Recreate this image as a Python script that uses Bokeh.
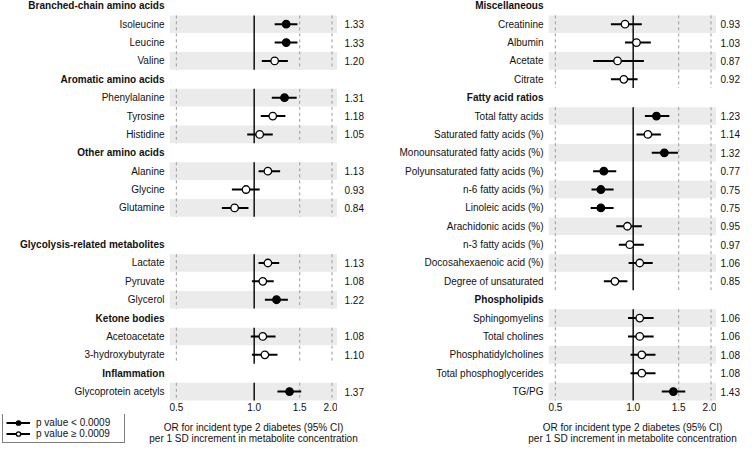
from bokeh.plotting import figure
from bokeh.models import (Range1d, FixedTicker, PrintfTickFormatter, ColumnDataSource,
                          Legend, LegendItem)
from bokeh.layouts import row, column
from bokeh.embed import file_html
from bokeh.resources import INLINE
from bokeh.core.properties import value

# ---------------- data ----------------
left_groups = ["Branched-chain amino acids", "Aromatic amino acids", "Other amino acids",
               "Glycolysis-related metabolites", "Ketone bodies", "Inflammation"]
left_group_sizes = [3, 3, 3, 3, 2, 1]
left_gap_before = [0, 0, 0, 1, 0, 0]
left_metabolites = ["Isoleucine", "Leucine", "Valine",
                    "Phenylalanine", "Tyrosine", "Histidine",
                    "Alanine", "Glycine", "Glutamine",
                    "Lactate", "Pyruvate", "Glycerol",
                    "Acetoacetate", "3-hydroxybutyrate",
                    "Glycoprotein acetyls"]
left_or = [1.33, 1.33, 1.20, 1.31, 1.18, 1.05, 1.13, 0.93, 0.84, 1.13, 1.08, 1.22, 1.08, 1.10, 1.37]
left_lo = [1.20, 1.20, 1.07, 1.17, 1.06, 0.94, 1.04, 0.82, 0.75, 1.04, 0.98, 1.10, 0.97, 0.98, 1.23]
left_hi = [1.47, 1.47, 1.35, 1.46, 1.32, 1.18, 1.26, 1.05, 0.95, 1.25, 1.19, 1.35, 1.21, 1.23, 1.52]
left_sig = [1, 1, 0, 1, 0, 0, 0, 0, 0, 0, 0, 1, 0, 0, 1]

right_groups = ["Miscellaneous", "Fatty acid ratios", "Phospholipids"]
right_group_sizes = [4, 10, 5]
right_gap_before = [0, 0, 0]
right_metabolites = ["Creatinine", "Albumin", "Acetate", "Citrate",
                     "Total fatty acids", "Saturated fatty acids (%)",
                     "Monounsaturated fatty acids (%)", "Polyunsaturated fatty acids (%)",
                     "n-6 fatty acids (%)", "Linoleic acids (%)", "Arachidonic acids (%)",
                     "n-3 fatty acids (%)", "Docosahexaenoic acid (%)", "Degree of unsaturated",
                     "Sphingomyelins", "Total cholines", "Phosphatidylcholines",
                     "Total phosphoglycerides", "TG/PG"]
right_or = [0.93, 1.03, 0.87, 0.92, 1.23, 1.14, 1.32, 0.77, 0.75, 0.75, 0.95, 0.97, 1.06, 0.85,
            1.06, 1.06, 1.08, 1.08, 1.43]
right_lo = [0.82, 0.93, 0.70, 0.82, 1.11, 1.03, 1.18, 0.70, 0.69, 0.685, 0.86, 0.88, 0.96, 0.77,
            0.955, 0.955, 0.977, 0.977, 1.29]
right_hi = [1.08, 1.17, 1.10, 1.04, 1.38, 1.28, 1.49, 0.86, 0.84, 0.84, 1.08, 1.10, 1.19, 0.95,
            1.20, 1.20, 1.22, 1.22, 1.59]
right_sig = [0, 0, 0, 0, 1, 0, 1, 1, 1, 1, 0, 0, 0, 0, 0, 0, 0, 0, 1]

ticks = [0.5, 1.0, 1.5, 2.0]
null_or = 1.0
legend_labels = ["p value < 0.0009", "p value \u2265 0.0009"]
axis_title = ["OR for incident type 2 diabetes (95% CI)",
              "per 1 SD increment in metabolite concentration"]

# ---------------- style / layout ----------------
FONT = "Liberation Sans"
FS = "10px"
TXT = "#111111"
BAND = "#ebebeb"
DASH = "#9a9a9a"
XMIN, XMAX = 0.4705, 2.10
Y_BOTTOM, Y_TOP = 21.54, -0.29
H = 444            # total height
FRAME_H = 401      # frame height of the top row
AX_H = 13          # room for tick labels
TOP_H = FRAME_H + AX_H
BOT_H = H - TOP_H
FRAME_W = 168
W_LLAB, W_MID, W_RVAL = 169, 211, 24
W_ALL = W_LLAB + FRAME_W + W_MID + FRAME_W + W_RVAL
NAN = float("nan")


def layout_rows(groups, sizes, gaps):
    header_rows, item_rows, shaded, spans = [], [], [], []
    r = 0
    for g, n, gap in zip(groups, sizes, gaps):
        r += gap
        header_rows.append(r)
        r += 1
        first = r
        for j in range(n):
            item_rows.append(r)
            shaded.append(j % 2 == 0)
            r += 1
        spans.append((first, r - 1))
    return header_rows, item_rows, shaded, spans


def clean(p):
    p.outline_line_color = None
    p.xgrid.visible = False
    p.ygrid.visible = False
    return p


def text_fig(width):
    p = figure(width=width, height=TOP_H, x_range=Range1d(0, width),
               y_range=Range1d(Y_BOTTOM, Y_TOP),
               output_backend="svg", toolbar_location=None,
               x_axis_location=None, y_axis_location=None,
               min_border_left=0, min_border_right=0, min_border_top=0,
               min_border_bottom=AX_H)
    return clean(p)


def add_labels(p, x, groups, names, header_rows, item_rows):
    p.text(x=x, y=item_rows, text=names, text_align="right", text_baseline="middle",
           text_font=value(FONT), text_font_size=FS, text_color=TXT)
    p.text(x=x, y=header_rows, text=groups, text_align="right", text_baseline="middle",
           text_font=value(FONT), text_font_size=FS, text_font_style="bold", text_color=TXT)


def add_values(p, x, item_rows, ors):
    p.text(x=x, y=item_rows, text=["%.2f" % v for v in ors], text_align="left",
           text_baseline="middle", text_font=value(FONT), text_font_size=FS, text_color=TXT)


def forest_fig(ors, los, his, sigs, item_rows, shaded, spans):
    p = figure(width=FRAME_W, height=TOP_H, x_axis_type="log",
               x_range=Range1d(XMIN, XMAX), y_range=Range1d(Y_BOTTOM, Y_TOP),
               output_backend="svg", toolbar_location=None, y_axis_location=None,
               min_border_left=0, min_border_right=0, min_border_top=0,
               min_border_bottom=AX_H)
    clean(p)

    band_rows = [y for y, s in zip(item_rows, shaded) if s]
    p.hbar(y=band_rows, left=XMIN, right=XMAX, height=0.96, color=BAND, line_color=None)

    y0 = [a - 0.48 for a, b in spans]
    y1 = [b + 0.48 for a, b in spans]
    for t in ticks:
        if t == null_or:
            continue
        p.segment(x0=[t] * len(spans), x1=[t] * len(spans), y0=y0, y1=y1,
                  line_color=DASH, line_width=1, line_dash="3 3")
    p.segment(x0=[null_or] * len(spans), x1=[null_or] * len(spans), y0=y0, y1=y1,
              line_color="black", line_width=1.4)

    for flag, fill in ((1, "black"), (0, "white")):
        idx = [i for i, s in enumerate(sigs) if s == flag]
        src = ColumnDataSource(dict(
            y=[item_rows[i] for i in idx], orv=[ors[i] for i in idx],
            lo=[los[i] for i in idx], hi=[his[i] for i in idx]))
        p.segment(x0="lo", x1="hi", y0="y", y1="y", source=src,
                  line_color="black", line_width=2)
        p.scatter(x="orv", y="y", source=src, size=7.5, fill_color=fill,
                  line_color="black", line_width=1.3)

    ax = p.xaxis[0]
    ax.ticker = FixedTicker(ticks=ticks)
    ax.formatter = PrintfTickFormatter(format="%.1f")
    ax.axis_line_color = None
    ax.major_tick_line_color = None
    ax.minor_tick_line_color = None
    ax.major_tick_out = 0
    ax.major_tick_in = 0
    ax.major_label_standoff = 1
    ax.major_label_text_font = FONT
    ax.major_label_text_font_size = FS
    ax.major_label_text_color = TXT
    return p


lh, li, lsh, lsp = layout_rows(left_groups, left_group_sizes, left_gap_before)
rh, ri, rsh, rsp = layout_rows(right_groups, right_group_sizes, right_gap_before)

f_llab = text_fig(W_LLAB)
add_labels(f_llab, W_LLAB - 5, left_groups, left_metabolites, lh, li)

f_lfor = forest_fig(left_or, left_lo, left_hi, left_sig, li, lsh, lsp)

f_mid = text_fig(W_MID)
add_values(f_mid, 7, li, left_or)
add_labels(f_mid, W_MID - 5, right_groups, right_metabolites, rh, ri)

f_rfor = forest_fig(right_or, right_lo, right_hi, right_sig, ri, rsh, rsp)

f_rval = text_fig(W_RVAL)
add_values(f_rval, 4, ri, right_or)

# bottom strip: legend + axis titles (centred under each forest panel)
f_bot = figure(width=W_ALL, height=BOT_H, x_range=Range1d(0, W_ALL), y_range=Range1d(BOT_H, 0),
               output_backend="svg", toolbar_location=None,
               x_axis_location=None, y_axis_location=None, min_border=0)
clean(f_bot)
centres = [W_LLAB + FRAME_W / 2, W_LLAB + FRAME_W + W_MID + FRAME_W / 2]
for k, t in enumerate(axis_title):
    f_bot.text(x=centres, y=[13 + 11 * k] * 2, text=[t, t], text_align="center",
               text_baseline="middle", text_font=value(FONT), text_font_size=FS,
               text_color=TXT)

# legend proxies (no visible data)
seg_a = f_bot.segment(x0=[NAN], x1=[NAN], y0=[NAN], y1=[NAN], line_color="black", line_width=2)
sc_a = f_bot.scatter(x=[NAN], y=[NAN], fill_color="black", line_color="black", line_width=1.3)
seg_b = f_bot.segment(x0=[NAN], x1=[NAN], y0=[NAN], y1=[NAN], line_color="black", line_width=2)
sc_b = f_bot.scatter(x=[NAN], y=[NAN], fill_color="white", line_color="black", line_width=1.3)
leg = Legend(items=[LegendItem(label=legend_labels[0], renderers=[seg_a, sc_a]),
                    LegendItem(label=legend_labels[1], renderers=[seg_b, sc_b])],
             location=(2, 1), border_line_color="black", border_line_width=1,
             background_fill_color="white", background_fill_alpha=1,
             padding=3, spacing=0, margin=0, glyph_width=24, glyph_height=11,
             label_height=11, label_width=85, label_standoff=6,
             label_text_font=FONT, label_text_font_size=FS, label_text_color=TXT)
f_bot.add_layout(leg)

layout = column(row(f_llab, f_lfor, f_mid, f_rfor, f_rval, spacing=0), f_bot, spacing=0)
open("out.html", "w").write(file_html(layout, INLINE))
